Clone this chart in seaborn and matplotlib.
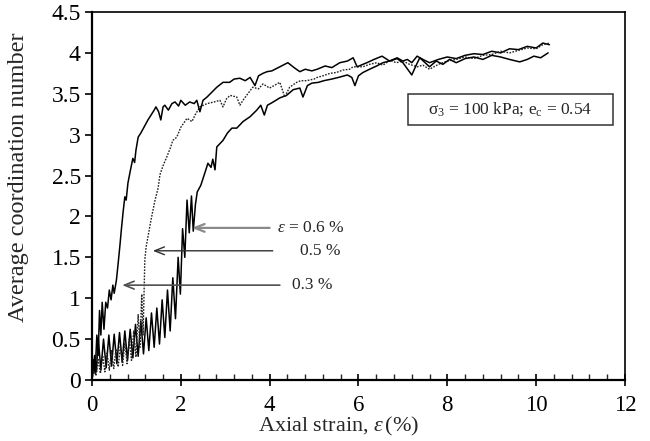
import numpy as np
import pandas as pd
import matplotlib
matplotlib.use("Agg")
import matplotlib.pyplot as plt
import seaborn as sns
from matplotlib.patches import Rectangle
from matplotlib.ticker import MultipleLocator, FixedLocator, FixedFormatter

# ---------------- data ----------------
# Curve for epsilon = 0.3 % (solid, leftmost)
a_x = [0, 0.04, 0.07, 0.11, 0.14, 0.17, 0.20, 0.23, 0.27, 0.31, 0.35, 0.39, 0.43, 0.47,
       0.50, 0.55, 0.59, 0.63, 0.66, 0.70, 0.74, 0.77, 0.81, 0.86, 0.92, 0.96, 0.99,
       1.04, 1.10, 1.18, 1.26, 1.33, 1.40, 1.44, 1.50, 1.55, 1.60, 1.64, 1.72, 1.80,
       1.87, 1.95, 2.00, 2.10, 2.20, 2.30, 2.36, 2.43, 2.50, 2.59, 2.70, 2.81, 2.95,
       3.10, 3.20, 3.33, 3.45, 3.56, 3.67, 3.75, 3.85, 3.94, 4.05, 4.23, 4.41, 4.55,
       4.68, 4.80, 4.95, 5.07, 5.25, 5.40, 5.58, 5.75, 5.88, 5.97, 6.10, 6.19, 6.35,
       6.53, 6.70, 6.87, 7.00, 7.20, 7.30, 7.38, 7.50, 7.60, 7.75, 7.90, 8.05, 8.20,
       8.40, 8.60, 8.80, 9.00, 9.20, 9.40, 9.63, 9.80, 9.95, 10.10, 10.27]
a_y = [0, 0.25, 0.08, 0.55, 0.30, 0.85, 0.55, 0.95, 0.62, 0.95, 0.88, 1.10, 0.98, 1.16,
       1.06, 1.22, 1.43, 1.65, 1.83, 2.05, 2.24, 2.20, 2.41, 2.55, 2.71, 2.66, 2.81,
       2.97, 3.02, 3.10, 3.18, 3.24, 3.30, 3.34, 3.28, 3.18, 3.34, 3.36, 3.30, 3.38,
       3.40, 3.35, 3.42, 3.36, 3.40, 3.38, 3.42, 3.28, 3.42, 3.46, 3.52, 3.58, 3.64,
       3.64, 3.68, 3.69, 3.66, 3.70, 3.60, 3.72, 3.75, 3.77, 3.78, 3.83, 3.88, 3.82,
       3.77, 3.80, 3.78, 3.80, 3.84, 3.82, 3.88, 3.90, 3.94, 3.83, 3.86, 3.88, 3.92,
       3.96, 3.90, 3.93, 3.88, 3.73, 3.85, 3.94, 3.88, 3.83, 3.90, 3.86, 3.92, 3.88,
       3.93, 3.95, 3.92, 3.97, 3.95, 3.92, 3.89, 3.92, 3.96, 3.94, 4.00]

# Curve for epsilon = 0.5 % (dotted, middle)
b_x = [0, 0.05, 0.09, 0.14, 0.19, 0.24, 0.29, 0.34, 0.39, 0.44, 0.49, 0.54, 0.59, 0.64,
       0.69, 0.74, 0.79, 0.84, 0.89, 0.94, 0.99, 1.04, 1.08, 1.12, 1.15, 1.19, 1.22,
       1.26, 1.33, 1.42, 1.49, 1.53, 1.60, 1.67, 1.76, 1.82, 1.91, 2.00, 2.14, 2.25,
       2.32, 2.43, 2.59, 2.75, 2.88, 2.95, 3.03, 3.11, 3.26, 3.33, 3.40, 3.48, 3.62,
       3.75, 3.85, 4.00, 4.10, 4.23, 4.34, 4.45, 4.61, 4.70, 4.83, 5.00, 5.07, 5.20,
       5.36, 5.50, 5.65, 5.80, 5.88, 6.10, 6.25, 6.41, 6.55, 6.71, 6.85, 7.00, 7.15,
       7.32, 7.45, 7.60, 7.80, 8.00, 8.20, 8.40, 8.60, 8.80, 9.00, 9.20, 9.40, 9.60,
       9.80, 10.00, 10.15, 10.30]
b_y = [0, 0.15, 0.05, 0.25, 0.08, 0.30, 0.10, 0.33, 0.12, 0.36, 0.14, 0.38, 0.16, 0.42,
       0.18, 0.45, 0.20, 0.50, 0.24, 0.60, 0.28, 0.80, 0.40, 1.05, 0.55, 1.47, 1.63,
       1.75, 1.96, 2.20, 2.35, 2.51, 2.62, 2.71, 2.83, 2.93, 2.97, 3.09, 3.20, 3.16,
       3.24, 3.34, 3.38, 3.40, 3.42, 3.34, 3.44, 3.48, 3.46, 3.36, 3.42, 3.48, 3.58,
       3.56, 3.62, 3.57, 3.60, 3.64, 3.46, 3.58, 3.64, 3.66, 3.66, 3.68, 3.70, 3.72,
       3.75, 3.76, 3.79, 3.80, 3.83, 3.83, 3.86, 3.88, 3.85, 3.91, 3.88, 3.90, 3.86,
       3.83, 3.85, 3.80, 3.86, 3.90, 3.92, 3.95, 3.93, 3.97, 3.98, 4.02, 4.00, 4.03,
       4.06, 4.05, 4.10, 4.12]

# Curve for epsilon = 0.6 % (solid, right, strong zigzag)
c_x = [0.00, 0.06, 0.10, 0.14, 0.20, 0.26, 0.32, 0.38, 0.44, 0.50, 0.56, 0.62, 0.68,
       0.74, 0.80, 0.86, 0.92, 0.98, 1.04, 1.10, 1.16, 1.22, 1.28, 1.34, 1.40, 1.46,
       1.52, 1.58, 1.64, 1.70, 1.76, 1.82, 1.88, 1.94, 1.99, 2.04, 2.09, 2.14, 2.19,
       2.24, 2.28, 2.33, 2.37, 2.45, 2.54, 2.61, 2.68, 2.72, 2.77, 2.81, 2.95, 3.05,
       3.15, 3.26, 3.40, 3.56, 3.71, 3.80, 3.88, 3.95, 4.05, 4.23, 4.38, 4.53, 4.68,
       4.75, 4.85, 4.95, 5.10, 5.22, 5.40, 5.55, 5.75, 5.85, 5.92, 6.00, 6.10, 6.25,
       6.41, 6.55, 6.70, 6.87, 7.00, 7.10, 7.20, 7.32, 7.45, 7.60, 7.80, 8.00, 8.20,
       8.40, 8.60, 8.80, 9.00, 9.20, 9.40, 9.60, 9.80, 10.00, 10.15, 10.30]
c_y = [0.00, 0.30, 0.10, 0.52, 0.12, 0.50, 0.15, 0.55, 0.17, 0.56, 0.20, 0.58, 0.22,
       0.60, 0.24, 0.62, 0.27, 0.68, 0.29, 0.72, 0.32, 0.76, 0.36, 0.82, 0.40, 0.88,
       0.44, 0.98, 0.52, 1.10, 0.60, 1.25, 0.75, 1.50, 1.05, 1.85, 1.50, 2.20, 1.80,
       2.25, 1.82, 2.15, 2.30, 2.38, 2.53, 2.65, 2.60, 2.70, 2.57, 2.85, 2.93, 3.02,
       3.08, 3.08, 3.16, 3.22, 3.30, 3.36, 3.24, 3.36, 3.39, 3.45, 3.48, 3.55, 3.57,
       3.46, 3.60, 3.63, 3.64, 3.66, 3.68, 3.70, 3.73, 3.70, 3.60, 3.72, 3.76, 3.80,
       3.84, 3.88, 3.90, 3.94, 3.90, 3.92, 3.88, 3.96, 3.92, 3.88, 3.92, 3.95, 3.93,
       3.97, 3.99, 3.98, 4.02, 4.00, 4.05, 4.04, 4.08, 4.06, 4.12, 4.10]

y_ticks = [0, 0.5, 1, 1.5, 2, 2.5, 3, 3.5, 4, 4.5]
y_tick_labels = ["0", "0.5", "1", "1.5", "2", "2.5", "3", "3.5", "4", "4.5"]
x_ticks = [0, 2, 4, 6, 8, 10, 12]
x_tick_labels = ["0", "2", "4", "6", "8", "10", "12"]
arrow_labels = [r"$\varepsilon$ = 0.6 %", "0.5 %", "0.3 %"]
arrow_heads_x = [2.25, 1.37, 0.68]
arrow_tails_x = [4.00, 4.07, 4.23]
arrow_y = [1.86, 1.58, 1.16]
label_x = [4.17, 4.68, 4.50]
box_text = "σ$_3$ = 100 kPa; e$_\\mathrm{c}$ = 0.54"

# ---------------- style ----------------
sns.set_style("ticks")
plt.rcParams["font.family"] = ["Liberation Serif", "DejaVu Serif"]
plt.rcParams["mathtext.fontset"] = "custom"
plt.rcParams["mathtext.rm"] = "Liberation Serif"
plt.rcParams["mathtext.it"] = "Liberation Serif:italic"
plt.rcParams["mathtext.bf"] = "Liberation Serif:bold"

fig = plt.figure(figsize=(6.5, 4.41), dpi=100)
ax = fig.add_axes([0.1415, 0.1383, 0.82, 0.8345])

df_a = pd.DataFrame({"x": a_x, "y": a_y})
df_b = pd.DataFrame({"x": b_x, "y": b_y})
df_c = pd.DataFrame({"x": c_x, "y": c_y})

sns.lineplot(data=df_c, x="x", y="y", ax=ax, color="black", lw=1.1,
             estimator=None, sort=False)
sns.lineplot(data=df_b, x="x", y="y", ax=ax, color="#222222", lw=1.0,
             linestyle=(0, (1.2, 1.0)), estimator=None, sort=False)
sns.lineplot(data=df_a, x="x", y="y", ax=ax, color="black", lw=1.1,
             estimator=None, sort=False)

ax.set_xlim(0, 12)
ax.set_ylim(0, 4.5)

ax.xaxis.set_major_locator(FixedLocator(x_ticks))
ax.xaxis.set_major_formatter(FixedFormatter(x_tick_labels))
ax.xaxis.set_minor_locator(MultipleLocator(0.4))
ax.yaxis.set_major_locator(FixedLocator(y_ticks))
ax.yaxis.set_major_formatter(FixedFormatter(y_tick_labels))

ax.tick_params(axis="x", which="major", direction="inout", length=9, width=1.2,
               labelsize=16.5, pad=6, colors="black")
ax.tick_params(axis="x", which="minor", direction="in", length=4, width=1.0)
ax.tick_params(axis="y", which="major", direction="out", length=5, width=1.2,
               labelsize=17, pad=3, colors="black")

for s in ax.spines.values():
    s.set_visible(True)
    s.set_color("black")
    s.set_linewidth(1.2)
ax.spines["left"].set_linewidth(1.6)
ax.spines["bottom"].set_linewidth(1.6)

ax.set_xlabel(r"Axial strain, $\varepsilon\,$(%)", fontsize=16)
ax.xaxis.set_label_coords(0.462, -0.095)
ax.set_ylabel("Average coordination number", fontsize=17.5)
ax.yaxis.set_label_coords(-0.118, 0.55)

# arrows and labels
arrow_colors = ["#8a8a8a", "#303030", "#505050"]
arrow_lw = [1.6, 1.0, 1.2]
for lab, hx, tx, yy, lx, col, lw in zip(arrow_labels, arrow_heads_x, arrow_tails_x,
                                         arrow_y, label_x, arrow_colors, arrow_lw):
    ax.annotate("", xy=(hx, yy), xytext=(tx, yy),
                arrowprops=dict(arrowstyle="->,head_length=0.7,head_width=0.28",
                                color=col, lw=lw, shrinkA=0, shrinkB=0))
    ax.text(lx, yy, lab, fontsize=12.5, ha="left", va="center")

# boxed condition text
ax.add_patch(Rectangle((0.593, 0.693), 0.3845, 0.084, transform=ax.transAxes,
                       fill=False, edgecolor="#333333", lw=1.1))
ax.text(0.785, 0.735, box_text, transform=ax.transAxes, fontsize=12.5,
        ha="center", va="center")

fig.savefig("out.png", dpi=100)
